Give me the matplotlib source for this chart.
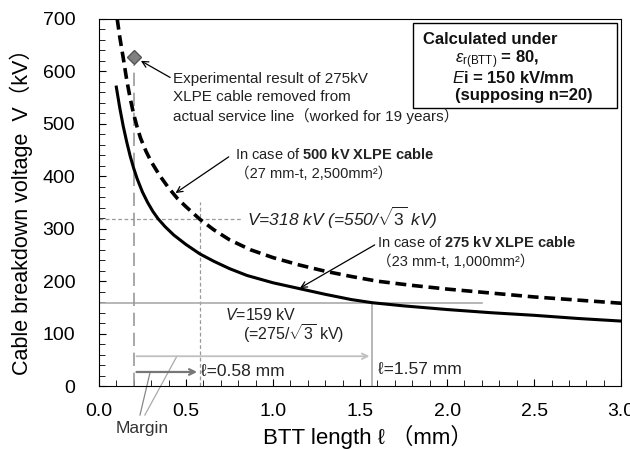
import numpy as np
import matplotlib
matplotlib.use("Agg")
import matplotlib.pyplot as plt
from matplotlib.patches import Rectangle
from matplotlib.ticker import MultipleLocator, FormatStrFormatter

plt.rcParams['font.family'] = ['Liberation Sans', 'Noto Sans CJK JP', 'DejaVu Sans']
plt.rcParams['mathtext.fontset'] = 'custom'
plt.rcParams['mathtext.rm'] = 'Liberation Sans'
plt.rcParams['mathtext.it'] = 'Liberation Sans:italic'
plt.rcParams['mathtext.bf'] = 'Liberation Sans:bold'

# 275 kV XLPE cable (solid)
l_275 = [0.10, 0.12, 0.14, 0.16, 0.18, 0.20, 0.22, 0.25, 0.28, 0.31, 0.34, 0.38,
         0.43, 0.50, 0.58, 0.66, 0.75, 0.85, 1.00, 1.15, 1.30, 1.45, 1.57, 1.75,
         2.00, 2.25, 2.50, 2.75, 3.00]
v_275 = [570, 530, 495, 465, 438, 415, 395, 370, 350, 333, 319, 304,
         288, 270, 252, 238, 224, 211, 197, 186, 175, 165, 159, 153,
         146, 140, 135, 129, 124]

# 500 kV XLPE cable (dashed)
l_500 = [0.105, 0.12, 0.14, 0.16, 0.18, 0.20, 0.22, 0.24, 0.27, 0.30, 0.35, 0.40,
         0.45, 0.50, 0.58, 0.66, 0.75, 0.87, 1.00, 1.15, 1.30, 1.45, 1.60, 1.80,
         2.00, 2.20, 2.50, 2.75, 3.00]
v_500 = [700, 665, 625, 583, 548, 518, 493, 472, 448, 428, 401, 378,
         358, 342, 318, 298, 279, 260, 245, 231, 219, 209, 200, 192,
         185, 179, 170, 164, 158]

# experimental result (275kV cable, 19 years)
exp_l = [0.2]
exp_v = [627]

v_318, l_318 = 318, 0.58
v_159, l_159 = 159, 1.57
l_margin = 0.2

fig = plt.figure(figsize=(6.3, 4.49), dpi=100)
ax = fig.add_axes([0.157, 0.140, 0.829, 0.818])

# guide lines
ax.plot([0, 0.82], [v_318, v_318], ls=(0, (3, 2)), color='#999999', lw=0.9)
ax.plot([l_318, l_318], [0, 350], ls=(0, (3, 2)), color='#999999', lw=0.9)
ax.plot([0, 2.2], [v_159, v_159], color='#aaaaaa', lw=1.2)
ax.plot([l_159, l_159], [0, v_159], color='#aaaaaa', lw=1.2)
ax.plot([l_margin, l_margin], [0, 612], ls=(0, (8, 4)), color='#999999', lw=1.2)

# curves
ax.plot(l_500, v_500, color='black', lw=2.6, ls=(0, (3, 1.6)))
ax.plot(l_275, v_275, color='black', lw=2.2)
ax.plot(exp_l, exp_v, marker='D', ms=7, color='#808080', mec='#555555', ls='none')

# margin arrows
ax.annotate('', xy=(l_159, 57), xytext=(l_margin, 57),
            arrowprops=dict(arrowstyle='->', color='#c0c0c0', lw=1.3))
ax.annotate('', xy=(l_318, 27), xytext=(l_margin, 27),
            arrowprops=dict(arrowstyle='->', color='#777777', lw=1.6))
ax.plot([0.236, 0.293], [-55, 25], color='#888888', lw=0.9, clip_on=False)
ax.plot([0.264, 0.448], [-55, 57], color='#aaaaaa', lw=0.9, clip_on=False)
ax.text(0.247, -80, 'Margin', fontsize=12.5, ha='center', va='center', color='#333333')

# annotations
ax.annotate('Experimental result of 275kV\nXLPE cable removed from\n'
            'actual service line（worked for 19 years）',
            xy=(0.241, 620), xytext=(0.425, 598), fontsize=11, va='top',
            linespacing=1.3, color='#222222',
            arrowprops=dict(arrowstyle='->', color='black', lw=0.9,
                            shrinkA=0, shrinkB=0, relpos=(0, 0.87)))
ax.annotate('In case of $\\mathbf{500\\ kV\\ XLPE\\ cable}$\n（27 mm-t, 2,500mm²）',
            xy=(0.44, 368), xytext=(0.78, 424), fontsize=10.5, va='center',
            linespacing=1.4, color='#222222',
            arrowprops=dict(arrowstyle='->', color='black', lw=0.9,
                            shrinkA=0, shrinkB=0, relpos=(-0.03, 0.7)))
ax.annotate('In case of $\\mathbf{275\\ kV\\ XLPE\\ cable}$\n（23 mm-t, 1,000mm²）',
            xy=(1.155, 187), xytext=(1.60, 256), fontsize=10.5, va='center',
            linespacing=1.4, color='#222222',
            arrowprops=dict(arrowstyle='->', color='black', lw=0.9,
                            shrinkA=0, shrinkB=0, relpos=(0, 0.75)))

ax.text(0.85, 320, '$\\mathit{V}$=318 kV (=550/$\\sqrt{3}$ kV)', fontsize=12.5,
        style='italic', va='center', color='#222222')
ax.text(0.724, 135, '$\\mathit{V}$=159 kV', fontsize=11.5, va='center', color='#222222')
ax.text(0.828, 101, '(=275/$\\sqrt{3}$ kV)', fontsize=11.5, va='center', color='#222222')
ax.text(0.586, 27, 'ℓ=0.58 mm', fontsize=12.5, va='center', color='#222222')
ax.text(1.603, 31, 'ℓ=1.57 mm', fontsize=12.5, va='center', color='#222222')

# condition box
ax.add_patch(Rectangle((0.602, 0.757), 0.39, 0.232, transform=ax.transAxes,
                       fill=False, ec='black', lw=1.0))
box_kw = dict(transform=ax.transAxes, fontsize=12, va='center', weight='bold',
              color='#111111')
ax.text(0.620, 0.944, 'Calculated under', **box_kw)
ax.text(0.681, 0.889, '$\\varepsilon_{\\mathrm{r(BTT)}}$ = 80,', **box_kw)
ax.text(0.676, 0.840, '$\\mathit{E}$i = 150 kV/mm', **box_kw)
ax.text(0.681, 0.791, '(supposing n=20)', **box_kw)

ax.set_xlim(0, 3.0)
ax.set_ylim(0, 700)
ax.xaxis.set_major_locator(MultipleLocator(0.5))
ax.xaxis.set_minor_locator(MultipleLocator(0.1))
ax.yaxis.set_major_locator(MultipleLocator(100))
ax.yaxis.set_minor_locator(MultipleLocator(20))
ax.xaxis.set_major_formatter(FormatStrFormatter('%.1f'))
ax.tick_params(which='both', direction='in', labelsize=14, top=False, right=False)
ax.tick_params(which='major', length=5)
ax.tick_params(which='minor', length=4)
ax.tick_params(axis='x', pad=12)
ax.tick_params(axis='y', pad=17)
ax.set_xlabel('BTT length ℓ （mm）', fontsize=16)
ax.xaxis.set_label_coords(0.515, -0.105)
ax.set_ylabel('Cable breakdown voltage  V（kV）', fontsize=15.5, labelpad=8)
ax.yaxis.set_label_coords(-0.127, 0.49)

fig.savefig('out.png', dpi=100)
